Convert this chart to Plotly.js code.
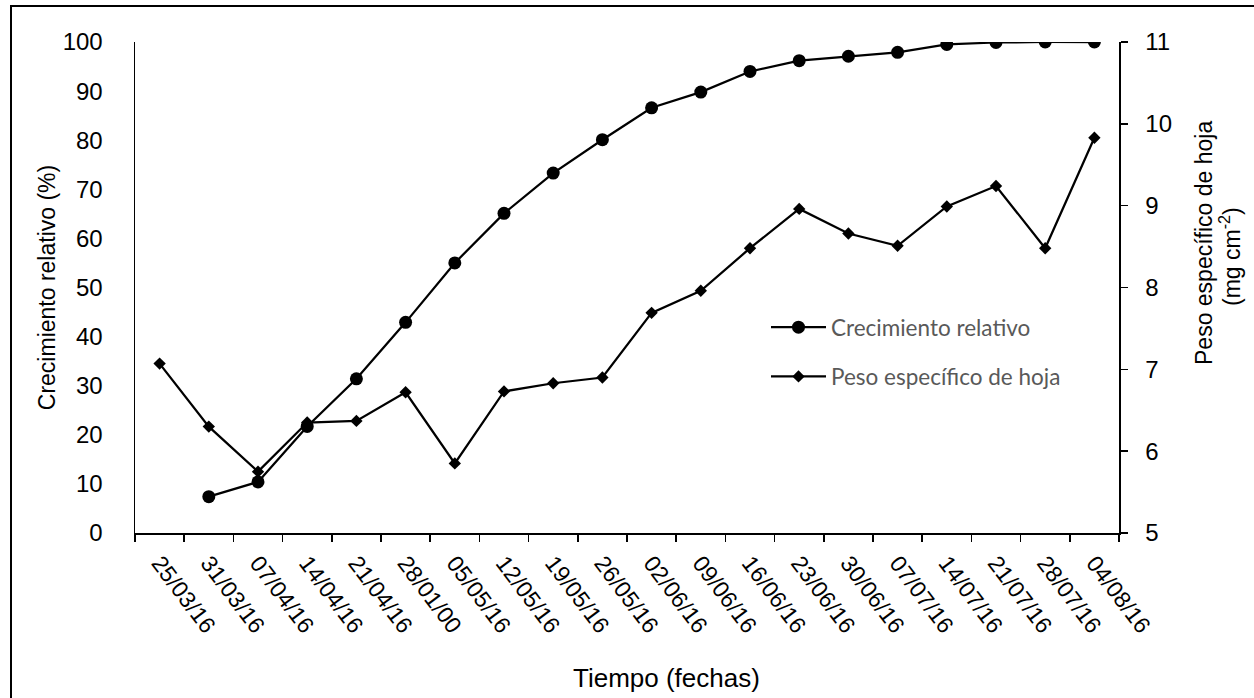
<!DOCTYPE html>
<html>
<head>
<meta charset="utf-8">
<script src="https://cdn.plot.ly/plotly-3.0.1.min.js"></script>
<style>
  html, body { margin: 0; padding: 0; background: #fff; }
  #chart { width: 1254px; height: 698px; }
</style>
</head>
<body>
<div id="chart"></div>
<script>
// Categories (dates as printed on the x axis)
const fechas = [
  "25/03/16", "31/03/16", "07/04/16", "14/04/16", "21/04/16", "28/01/00",
  "05/05/16", "12/05/16", "19/05/16", "26/05/16", "02/06/16", "09/06/16",
  "16/06/16", "23/06/16", "30/06/16", "07/07/16", "14/07/16", "21/07/16",
  "28/07/16", "04/08/16"
];

// Crecimiento relativo (%) - left axis (no value on first date)
const crecimientoRelativo = [
  null, 7.4, 10.4, 21.7, 31.4, 42.9, 55.0, 65.1, 73.3, 80.1,
  86.6, 89.8, 94.0, 96.2, 97.1, 97.9, 99.5, 99.9, 100, 100
];

// Peso específico de hoja (mg cm-2) - right axis
const pesoEspecifico = [
  7.07, 6.30, 5.75, 6.35, 6.37, 6.72, 5.85, 6.73, 6.83, 6.90,
  7.69, 7.96, 8.48, 8.96, 8.66, 8.51, 8.99, 9.24, 8.48, 9.83
];

// Axis tick values
const leftTicks = [0, 10, 20, 30, 40, 50, 60, 70, 80, 90, 100];
const rightTicks = [5, 6, 7, 8, 9, 10, 11];

const W = 1254, H = 698;
const mL = 135, mR = 135, mT = 42, mB = 165;
const pw = W - mL - mR, ph = H - mT - mB;
const px2x = (px) => (px - mL) / pw;
const px2y = (py) => (H - mB - py) / ph;

const FAM = 'Liberation Sans, Arial, sans-serif';
const xTickFont = { family: FAM, size: 23, color: '#000' };
const yTickFont = { family: FAM, size: 24, color: '#000' };
const titleFont = { family: FAM, size: 23, color: '#000' };

const traces = [
  {
    x: fechas, y: crecimientoRelativo, name: 'Crecimiento relativo',
    type: 'scatter', mode: 'lines+markers', yaxis: 'y', legendgroup: 'a',
    line: { color: '#000', width: 2.25 },
    marker: { symbol: 'circle', size: 13, color: '#000' },
    hoverinfo: 'skip'
  },
  {
    x: fechas, y: pesoEspecifico, name: 'Peso específico de hoja',
    type: 'scatter', mode: 'lines+markers', yaxis: 'y2', legendgroup: 'b',
    line: { color: '#000', width: 2.25 },
    marker: { symbol: 'diamond', size: 9.5, color: '#000' },
    hoverinfo: 'skip'
  }
];

const layout = {
  width: W, height: H,
  margin: { l: mL, r: mR, t: mT, b: mB, pad: 0 },
  paper_bgcolor: '#fff', plot_bgcolor: '#fff',
  showlegend: true,
  legend: {
    x: px2x(766), y: px2y(306), xanchor: 'left', yanchor: 'top',
    bgcolor: 'rgba(0,0,0,0)', borderwidth: 0,
    traceorder: 'grouped', tracegroupgap: 17, itemwidth: 55,
    font: { family: 'Lato, Open Sans, sans-serif', size: 22.5, color: '#595959' }
  },
  xaxis: {
    type: 'category',
    range: [-0.5, fechas.length - 0.5],
    showline: true, linecolor: '#000', linewidth: 1.5,
    ticks: 'outside', tickson: 'boundaries', ticklen: 7, tickwidth: 1.5, tickcolor: '#000',
    tickangle: 53, tickfont: xTickFont, ticklabelstandoff: 6,
    showgrid: false, zeroline: false, automargin: false, fixedrange: true
  },
  yaxis: {
    range: [0, 100], tickvals: leftTicks,
    showline: true, linecolor: '#000', linewidth: 1.5,
    ticks: '', ticklabelstandoff: 26, tickfont: yTickFont,
    showgrid: false, zeroline: false, automargin: false, fixedrange: true,
    title: { text: 'Crecimiento relativo (%)', font: titleFont, standoff: 0 }
  },
  yaxis2: {
    overlaying: 'y', side: 'right',
    range: [5, 11], tickvals: rightTicks,
    showline: true, linecolor: '#000', linewidth: 1.5,
    ticks: 'outside', ticklen: 7, tickwidth: 1.5, tickcolor: '#000',
    ticklabelstandoff: 13, tickfont: yTickFont,
    showgrid: false, zeroline: false, automargin: false, fixedrange: true
  },
  annotations: [
    {
      text: 'Tiempo (fechas)', xref: 'paper', yref: 'paper',
      x: px2x(666), y: px2y(678), xanchor: 'center', yanchor: 'middle',
      showarrow: false, font: { family: FAM, size: 26, color: '#000' }
    },
    {
      text: 'Peso específico de hoja', xref: 'paper', yref: 'paper', textangle: -90,
      x: px2x(1204), y: px2y(243), xanchor: 'center', yanchor: 'middle',
      showarrow: false, font: titleFont
    },
    {
      text: '(mg cm<sup>-2</sup>)', xref: 'paper', yref: 'paper', textangle: -90,
      x: px2x(1230), y: px2y(257), xanchor: 'center', yanchor: 'middle',
      showarrow: false, font: titleFont
    }
  ],
  shapes: [
    {
      type: 'rect', xref: 'paper', yref: 'paper',
      x0: px2x(11), x1: px2x(1260), y0: px2y(705), y1: px2y(6),
      line: { color: '#000', width: 2 }, fillcolor: 'rgba(0,0,0,0)', layer: 'below'
    }
  ]
};

Plotly.newPlot('chart', traces, layout, { staticPlot: true, displayModeBar: false });
</script>
</body>
</html>
